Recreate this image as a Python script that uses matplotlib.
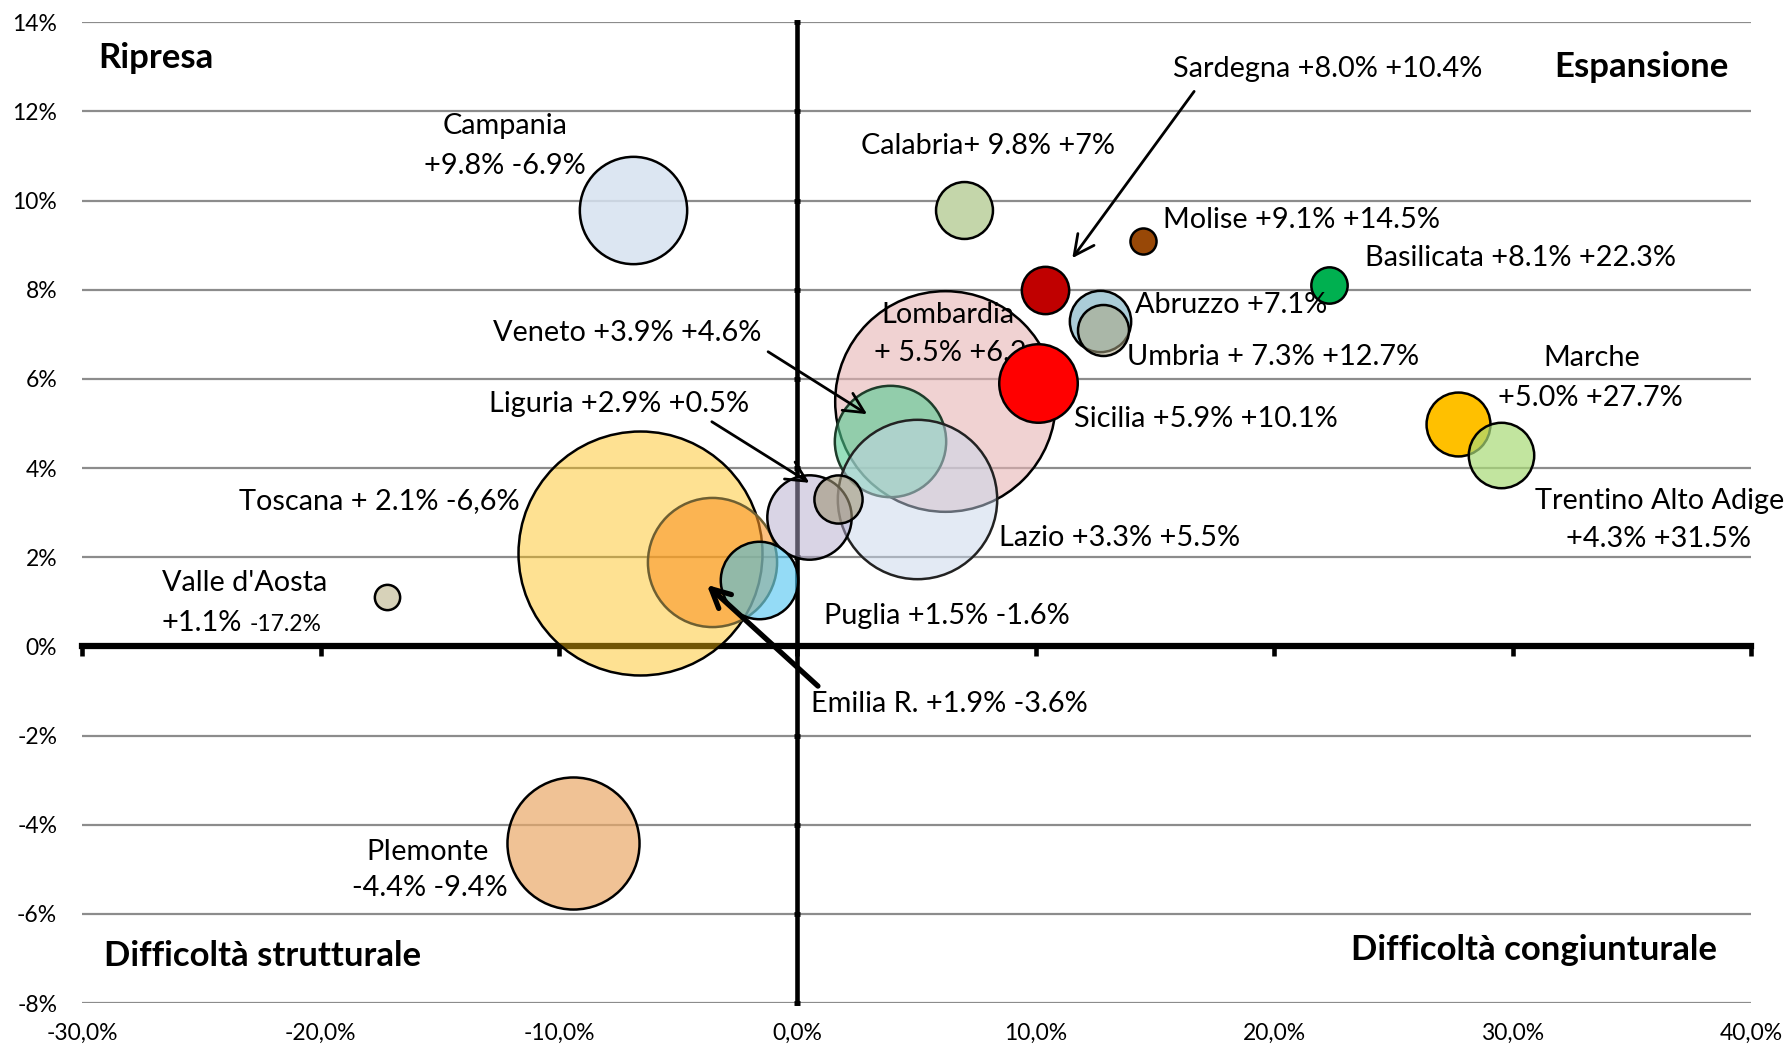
import numpy as np
import matplotlib.pyplot as plt
from matplotlib.colors import to_rgba

plt.rcParams['font.family'] = ['Lato', 'DejaVu Sans']

# dati delle regioni: x = seconda variazione %, y = prima variazione %, peso = dimensione bolla
regioni = ['Toscana', 'Lombardia', 'Piemonte', 'Emilia R.', 'Campania', 'Veneto', 'Lazio',
           'Liguria', 'Friuli', 'Puglia', 'Sicilia', 'Marche', 'Trentino', 'Abruzzo',
           'Umbria', 'Calabria', 'Sardegna', 'Basilicata', 'Molise', "Valle d'Aosta"]
var_x = [-6.6, 6.2, -9.4, -3.6, -6.9, 3.9, 5.0, 0.5, 1.7, -1.6,
         10.1, 27.7, 29.5, 12.7, 12.8, 7.0, 10.4, 22.3, 14.5, -17.2]
var_y = [2.1, 5.5, -4.4, 1.9, 9.8, 4.6, 3.3, 2.9, 3.3, 1.5,
         5.9, 5.0, 4.3, 7.3, 7.1, 9.8, 8.0, 8.1, 9.1, 1.1]
peso = [148.8, 121.7, 43.6, 41.7, 28.8, 31.0, 63.5, 17.8, 5.8, 15.0,
        15.4, 10.2, 10.7, 9.4, 6.5, 8.1, 5.6, 3.3, 1.7, 1.6]

x_ticks = [-30, -20, -10, 0, 10, 20, 30, 40]
y_ticks = [-8, -6, -4, -2, 0, 2, 4, 6, 8, 10, 12, 14]

# colore, trasparenza, bordo
stile = {
    'Toscana': ('#fdbd0d', 0.45, 'black'),
    'Lombardia': ('#e6b4b4', 0.6, 'black'),
    'Piemonte': ('#eaa969', 0.7, 'black'),
    'Emilia R.': ('#fa9628', 0.6, '#6e5f32'),
    'Campania': ('#d6e2f0', 0.85, 'black'),
    'Veneto': ('#53cb91', 0.6, '#1e3c2a'),
    'Lazio': ('#c8d7eb', 0.5, '#222222'),
    'Liguria': ('#b4aacd', 0.5, 'black'),
    'Friuli': ('#a09678', 0.6, 'black'),
    'Puglia': ('#3cbef0', 0.55, 'black'),
    'Sicilia': ('#ff0000', 1.0, 'black'),
    'Marche': ('#ffc000', 1.0, 'black'),
    'Trentino': ('#a9db77', 0.7, 'black'),
    'Abruzzo': ('#abcdd8', 1.0, 'black'),
    'Umbria': ('#aaa582', 0.55, 'black'),
    'Calabria': ('#c4d6aa', 1.0, 'black'),
    'Sardegna': ('#c00000', 1.0, 'black'),
    'Basilicata': ('#00b050', 1.0, 'black'),
    'Molise': ('#984807', 1.0, 'black'),
    "Valle d'Aosta": ('#d7d2b9', 1.0, 'black'),
}

# etichette: testo, x, y, allineamento
etichette = [
    ('Campania', -12.28, 11.68, 'center'),
    ('+9.8% -6.9%', -12.28, 10.78, 'center'),
    ('Calabria+ 9.8% +7%', 8.0, 11.23, 'center'),
    ('Sardegna +8.0% +10.4%', 15.76, 12.96, 'left'),
    ('Molise +9.1% +14.5%', 15.33, 9.57, 'left'),
    ('Basilicata +8.1% +22.3%', 23.79, 8.71, 'left'),
    ('Abruzzo +7.1%', 14.17, 7.66, 'left'),
    ('Umbria + 7.3% +12.7%', 13.81, 6.49, 'left'),
    ('Sicilia +5.9% +10.1%', 11.6, 5.11, 'left'),
    ('Marche', 33.3, 6.46, 'center'),
    ('+5.0% +27.7%', 33.27, 5.58, 'center'),
    ('Trentino Alto Adige', 30.93, 3.27, 'left'),
    ('+4.3% +31.5%', 39.98, 2.42, 'right'),
    ('Lazio +3.3% +5.5%', 8.47, 2.44, 'left'),
    ('Puglia +1.5% -1.6%', 1.13, 0.69, 'left'),
    ('Veneto +3.9% +4.6%', -12.76, 7.04, 'left'),
    ('Liguria +2.9% +0.5%', -12.95, 5.43, 'left'),
    ('Toscana + 2.1% -6,6%', -23.43, 3.25, 'left'),
    ("Valle d'Aosta", -23.2, 1.42, 'center'),
    ('Emilia R. +1.9% -3.6%', 0.59, -1.30, 'left'),
    ('PIemonte', -15.5, -4.61, 'center'),
    ('-4.4% -9.4%', -15.43, -5.43, 'center'),
]

fig = plt.figure(figsize=(17.91, 10.47), dpi=100)
ax = fig.add_axes([0.0459, 0.0420, 0.9318, 0.9367])
ax.set_xlim(-30, 40)
ax.set_ylim(-8, 14)
for sp in ax.spines.values():
    sp.set_visible(False)

ax.set_xticks(x_ticks)
ax.set_xticklabels([f'{v:.1f}%'.replace('.', ',') for v in x_ticks])
ax.set_yticks(y_ticks)
ax.set_yticklabels([f'{v}%' for v in y_ticks])
ax.tick_params(axis='x', length=0, labelsize=16.5, pad=14)
ax.tick_params(axis='y', length=0, labelsize=16.5, pad=18)
ax.set_axisbelow(True)
ax.yaxis.grid(True, color='#8c8c8c', lw=1.6)

# assi che si incrociano nello zero
sx = ax.secondary_xaxis(0, transform=ax.transData)
sx.set_xticks(x_ticks)
sx.tick_params(labelbottom=False, direction='out', length=7, width=3.3)
sx.spines['bottom'].set_linewidth(4.5)
sx.set_zorder(0.8)
sy = ax.secondary_yaxis(0, transform=ax.transData)
sy.set_yticks(y_ticks)
sy.tick_params(labelleft=False, direction='inout', length=5, width=3.5)
sy.spines['left'].set_linewidth(3.3)
sy.set_zorder(0.8)

# bolle
zord = {}
for i, reg in enumerate(regioni):
    col, a, bordo = stile[reg]
    zord[reg] = 2 + i * 0.01
    ax.scatter(var_x[i], var_y[i], s=peso[i] * 207.36,
               facecolors=[to_rgba(col, a)], edgecolors=[bordo],
               linewidths=1.8, zorder=zord[reg])

fs = 20.8
for testo, x, y, ha in etichette:
    ax.text(x, y, testo, ha=ha, va='center', fontsize=fs, zorder=5)

# Lombardia parzialmente coperta dalla bolla della Sicilia
ax.text(6.33, 7.44, 'Lombardia', ha='center', va='center', fontsize=fs,
        zorder=zord['Sicilia'] - 0.005)
ax.text(6.40, 6.59, '+ 5.5% +6.2', ha='center', va='center', fontsize=fs,
        zorder=zord['Sicilia'] - 0.005)

# Valle d'Aosta con due dimensioni di carattere
ax.text(-23.30, 0.34, '+1.1%', ha='right', va='baseline', fontsize=fs, zorder=5)
ax.text(-22.98, 0.34, '-17.2%', ha='left', va='baseline', fontsize=16.5, zorder=5)

# quadranti
bold = dict(fontsize=25, fontweight='bold', va='center')
ax.text(-29.34, 13.19, 'Ripresa', ha='left', **bold)
ax.text(39.04, 13.0, 'Espansione', ha='right', **bold)
ax.text(-29.1, -6.95, 'Difficoltà strutturale', ha='left', **bold)
ax.text(38.56, -6.80, 'Difficoltà congiunturale', ha='right', **bold)

# frecce
frecce = [((16.64, 12.45), (11.53, 8.71), 2.0),
          ((-1.23, 6.61), (2.92, 5.21), 2.0),
          ((-3.59, 5.04), (0.50, 3.67), 2.0),
          ((0.86, -0.89), (-3.80, 1.38), 3.8)]
for inizio, fine, lw in frecce:
    ax.annotate('', xy=fine, xytext=inizio,
                arrowprops=dict(arrowstyle='->,head_length=0.9,head_width=0.45',
                                lw=lw, color='black', shrinkA=0, shrinkB=0,
                                mutation_scale=16 if lw < 3 else 15),
                zorder=6)

fig.savefig('out.png', dpi=100)
